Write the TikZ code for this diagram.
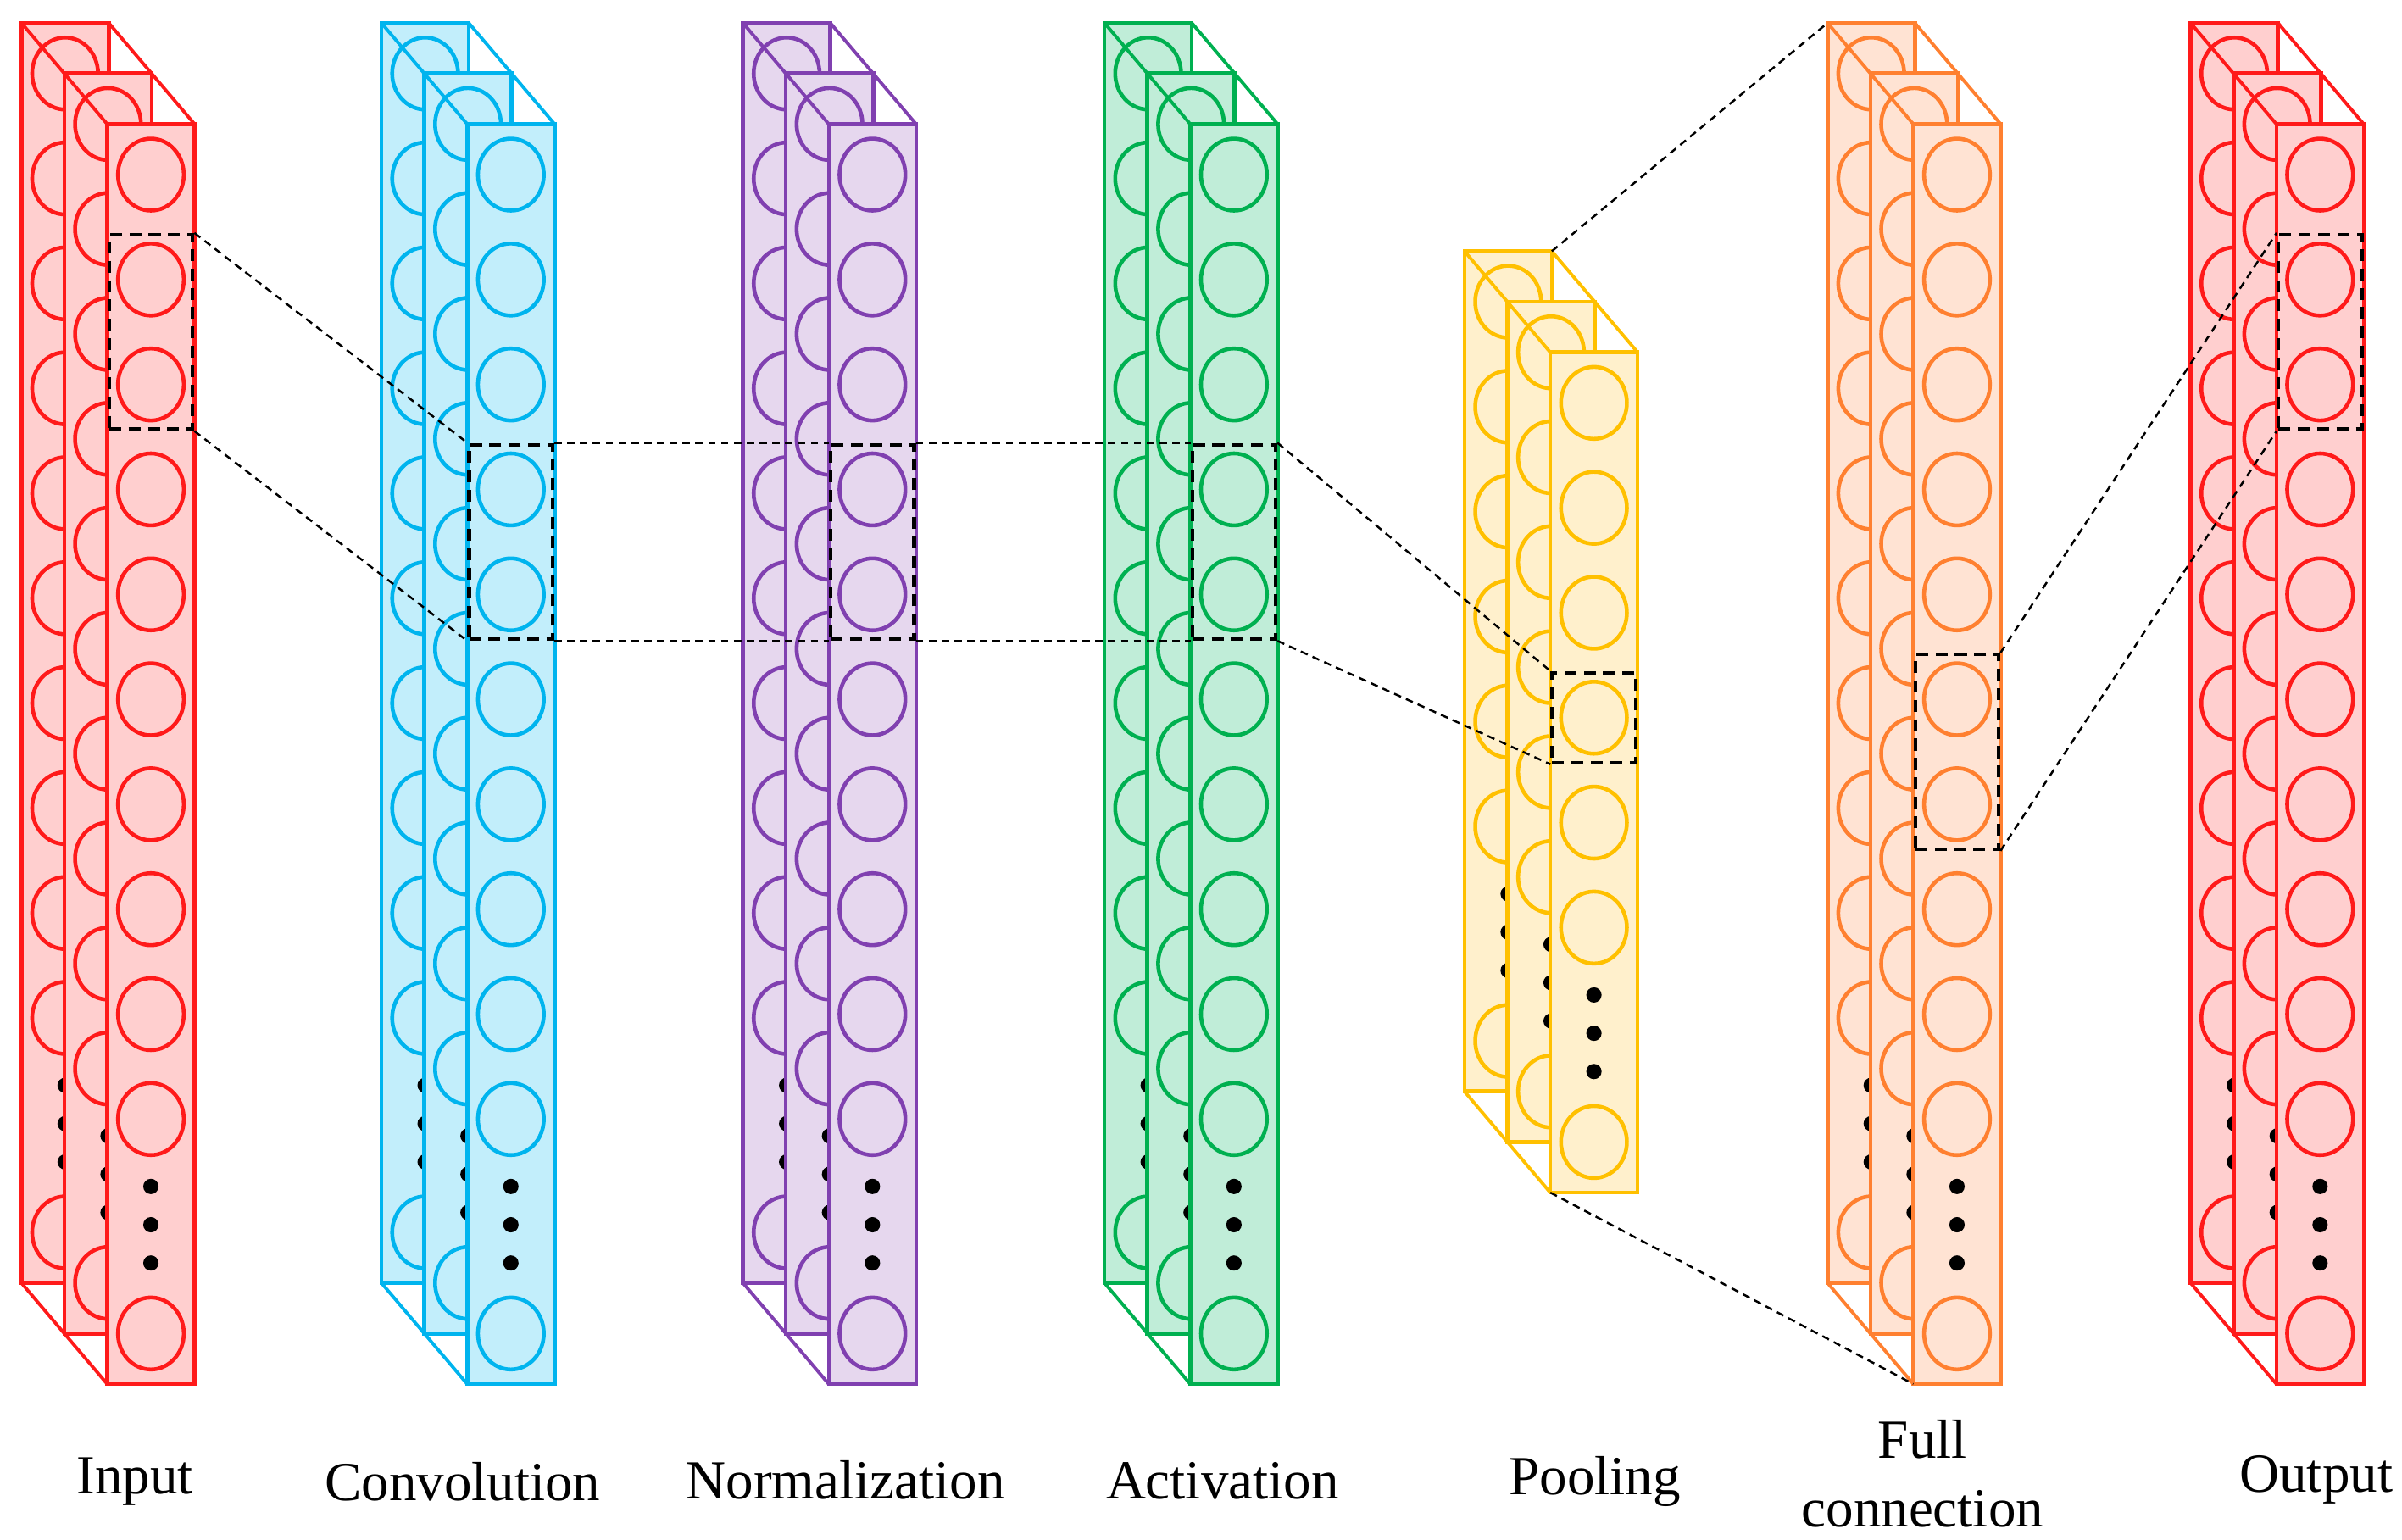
\documentclass[tikz,border=0pt]{standalone}
\usepackage{fontspec}
\setmainfont{Liberation Serif}
\usetikzlibrary{shapes.geometric, fit}
\newlength\unitpx
\setlength\unitpx{0.018074cm}
\definecolor{inpcol}{HTML}{FF1A1A}\definecolor{inpfill}{HTML}{FFCFCF}
\definecolor{convcol}{HTML}{00B4EE}\definecolor{convfill}{HTML}{C2EEFB}
\definecolor{normcol}{HTML}{8040B0}\definecolor{normfill}{HTML}{E6D7EE}
\definecolor{actcol}{HTML}{00B050}\definecolor{actfill}{HTML}{C0EDD8}
\definecolor{poolcol}{HTML}{FFC000}\definecolor{poolfill}{HTML}{FFF0CC}
\definecolor{fullcol}{HTML}{FF8030}\definecolor{fullfill}{HTML}{FFE3D3}

% name, front left x, front top y, circles above the dots, line colour, fill colour
\newcommand{\nnlayer}[6]{%
  \pgfmathsetmacro\panelh{206+68.5*(#4-1)}
  \foreach \k in {2,1,0} {
    \pgfmathsetmacro\px{#2-28*\k}
    \pgfmathsetmacro\py{#3-33*\k}
    \node[panel, draw=#5, fill=#6, minimum height=\panelh\unitpx] (#1-\k) at (\px,\py) {};
    \foreach \j in {1,...,#4}
      \node[neuron, draw=#5] (#1-\k-\j) at (\px+28.5,\py+33+68.5*\j-68.5) {};
    \pgfmathsetmacro\dy{\py+33+68.5*(#4-1)}
    \foreach \d in {1,2,3}
      \node[dot] (#1-\k-d\d) at (\px+28.5,\dy+19+25*\d) {};
    \node[neuron, draw=#5] (#1-\k-last) at (\px+28.5,\dy+140) {};
  }
  \foreach \a/\b in {2/1,1/0} {
    \draw[#5, line width=1.1pt] (#1-\a.north west) -- (#1-\b.north west);
    \draw[#5, line width=1.1pt] (#1-\a.north east) -- (#1-\b.north east);
    \draw[#5, line width=1.1pt] (#1-\a.south west) -- (#1-\b.south west);
  }
}

\begin{document}
\begin{tikzpicture}[
    x=\unitpx, y=-\unitpx,
    panel/.style={rectangle, anchor=north west, minimum width=57\unitpx,
        line width=1.3pt, inner sep=0pt, outer sep=0pt},
    neuron/.style={ellipse, minimum width=43\unitpx, minimum height=47\unitpx,
        line width=1.3pt, inner sep=0pt},
    dot/.style={circle, fill=black, minimum size=10\unitpx, inner sep=0pt},
    sel/.style={draw=black, dashed, line width=1.2pt, inner sep=2.3pt,
        dash pattern=on 4pt off 2.5pt},
    link/.style={draw=black, line width=0.7pt, dash pattern=on 2.5pt off 1.8pt},
    lbl/.style={font=\fontsize{18.5}{23}\selectfont, align=center},
]
\useasboundingbox (0,0) rectangle (1568,1005.3);

% layers
\nnlayer{in}{70}{81}{10}{inpcol}{inpfill}
\nnlayer{conv}{305}{81}{10}{convcol}{convfill}
\nnlayer{norm}{541}{81}{10}{normcol}{normfill}
\nnlayer{act}{777}{81}{10}{actcol}{actfill}
\nnlayer{pool}{1012}{230}{6}{poolcol}{poolfill}
\nnlayer{full}{1249}{81}{10}{fullcol}{fullfill}
\nnlayer{out}{1486}{81}{10}{inpcol}{inpfill}

% selected neurons
\node[sel, fit=(in-0-2)(in-0-3)] (selin) {};
\node[sel, fit=(conv-0-4)(conv-0-5)] (selconv) {};
\node[sel, fit=(norm-0-4)(norm-0-5)] (selnorm) {};
\node[sel, fit=(act-0-4)(act-0-5)] (selact) {};
\node[sel, fit=(pool-0-4)] (selpool) {};
\node[sel, fit=(full-0-6)(full-0-7)] (selfull) {};
\node[sel, fit=(out-0-2)(out-0-3)] (selout) {};

% connections
\draw[link] (selin.north east) -- (selconv.north west);
\draw[link] (selin.south east) -- (selconv.south west);
\draw[link] (selconv.north east) -- (selnorm.north west);
\draw[link] (selconv.south east) -- (selnorm.south west);
\draw[link] (selnorm.north east) -- (selact.north west);
\draw[link] (selnorm.south east) -- (selact.south west);
\draw[link] (selact.north east) -- (selpool.north west);
\draw[link] (selact.south east) -- (selpool.south west);
\draw[link] (pool-2.north east) -- (full-2.north west);
\draw[link] (pool-0.south west) -- (full-0.south west);
\draw[link] (selfull.north east) -- (selout.north west);
\draw[link] (selfull.south east) -- (selout.south west);

% labels
\node[lbl] (tin)   at (88,967)   {Input};
\node[lbl] (tconv) at (302,967)  {Convolution};
\node[lbl] (tnorm) at (552,966)  {Normalization};
\node[lbl] (tact)  at (798,967)  {Activation};
\node[lbl] (tpool) at (1041,967) {Pooling};
\node[lbl] (tfull) at (1255,962) {Full\\connection};
\node[lbl] (tout)  at (1512,966) {Output};
\end{tikzpicture}
\end{document}
